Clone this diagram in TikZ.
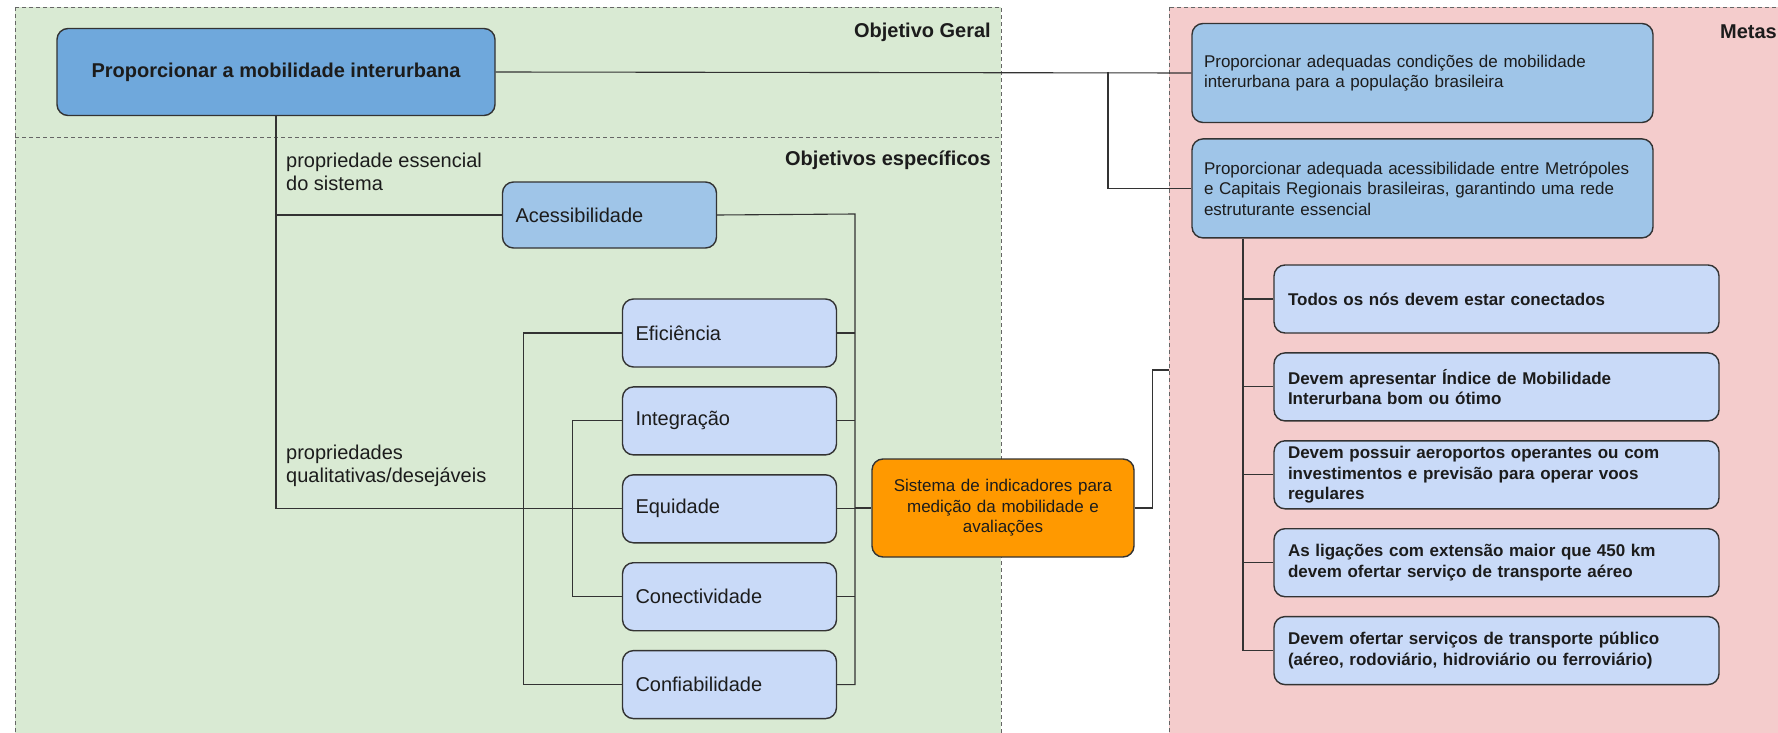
\documentclass[tikz,border=0pt]{standalone}
\usepackage{fontspec}
\setmainfont{Liberation Sans}
\usepackage{tikz}
\usetikzlibrary{positioning}
\definecolor{geralbg}{HTML}{D9EAD3}
\definecolor{metabg}{HTML}{F4CCCC}
\definecolor{azulforte}{HTML}{6FA8DC}
\definecolor{azulmedio}{HTML}{9FC5E8}
\definecolor{azulclaro}{HTML}{C9DAF8}
\definecolor{laranja}{HTML}{FF9900}
\definecolor{contorno}{HTML}{333333}
\definecolor{texto}{HTML}{1C1C1C}
\newcommand{\txtG}{\fontsize{20}{23}\selectfont}
\newcommand{\txtP}{\fontsize{17}{20.5}\selectfont}
\tikzset{
  painel/.style={draw=black!60, line width=0.8pt, dash pattern=on 4pt off 3pt},
  caixa/.style={draw=contorno, line width=1.4pt, rounded corners=11pt, text=texto},
  principal/.style={caixa, fill=azulforte, minimum width=438pt, minimum height=87pt, font=\txtG\bfseries},
  essencial/.style={caixa, fill=azulmedio, text width=188pt, inner xsep=13pt, align=left, minimum height=66pt, font=\txtG},
  qualidade/.style={caixa, fill=azulclaro, text width=188pt, inner xsep=13pt, align=left, minimum height=68pt, font=\txtG},
  indicador/.style={caixa, fill=laranja, text width=240pt, inner xsep=11pt, align=center, minimum height=98pt, font=\txtP},
  meta/.style={caixa, fill=azulmedio, text width=437pt, inner xsep=12pt, align=left, minimum height=99pt, font=\txtP},
  submeta/.style={caixa, fill=azulclaro, text width=417pt, inner xsep=14pt, inner ysep=2pt, align=left, minimum height=68pt, font=\txtP\bfseries},
  rotulo/.style={inner sep=0pt, align=left, text=texto, font=\txtG},
  titulo/.style={inner sep=0pt, text=texto, font=\txtG\bfseries},
  liga/.style={draw=contorno, line width=1.1pt}
}

\begin{document}
\begin{tikzpicture}[x=1pt,y=-1pt, node distance=18.5pt]
\useasboundingbox (0,0) rectangle (1778,733);
\clip (0,0) rectangle (1778,733);
\fill[white] (0,0) rectangle (1778,733);

\draw[painel, fill=geralbg] (15,7) rectangle (1001,745);
\draw[painel, fill=metabg] (1169,7) rectangle (1795,745);
\draw[painel] (15,137) -- (1001,137);
\node[titulo, anchor=east] (tgeral) at (991,32) {Objetivo Geral};
\node[titulo, anchor=east] (tespec) at (991,160) {Objetivos específicos};
\node[titulo, anchor=east] (tmetas) at (1777,32) {Metas};

\node[principal] (main) at (276,72) {Proporcionar a mobilidade interurbana};
\node[essencial] (acess) at (609.5,215) {Acessibilidade};
\node[qualidade] (efic) at (729.5,333) {Eficiência};
\node[qualidade, below=of efic] (integ) {Integração};
\node[qualidade, below=of integ] (equid) {Equidade};
\node[qualidade, below=of equid] (conec) {Conectividade};
\node[qualidade, below=of conec] (conf) {Confiabilidade};
\node[indicador] (sist) at (1003,508) {Sistema de indicadores para\\medição da mobilidade e\\avaliações};
\node[rotulo, anchor=west] (essen) at (286,172) {propriedade essencial\\do sistema};
\node[rotulo, anchor=west] (quali) at (286,466) {propriedades\\qualitativas/desejáveis};

\node[meta] (meta1) at (1422.5,73) {Proporcionar adequadas condições de mobilidade\\interurbana para a população brasileira};
\node[meta, below=15pt of meta1] (meta2) {Proporcionar adequada acessibilidade entre Metrópoles\\e Capitais Regionais brasileiras, garantindo uma rede\\estruturante essencial};
\node[submeta] (sub1) at (1496.5,299) {Todos os nós devem estar conectados};
\node[submeta, below=of sub1] (sub2) {Devem apresentar Índice de Mobilidade\\Interurbana bom ou ótimo};
\node[submeta, below=of sub2] (sub3) {Devem possuir aeroportos operantes ou com\\investimentos e previsão para operar voos\\regulares};
\node[submeta, below=of sub3] (sub4) {As ligações com extensão maior que 450 km\\devem ofertar serviço de transporte aéreo};
\node[submeta, below=of sub4] (sub5) {Devem ofertar serviços de transporte público\\(aéreo, rodoviário, hidroviário ou ferroviário)};

\coordinate (gancho) at (1108,72);
\coordinate (barra) at (855,214);
\coordinate (entrada) at (1169,370);
\coordinate (tronco) at (1243,236);

\draw[liga] (main.east) -- (meta1.west);
\draw[liga] (gancho) |- (meta2.west);
\draw[liga] (main.south) |- (equid.west);
\draw[liga] (main.south |- acess.west) -- (acess.west);
\draw[liga] (acess.east) -- (barra) |- (conf.east);
\foreach \n in {efic,integ,equid,conec}
  \draw[liga] (\n.east) -- (\n.east -| barra);
\draw[liga] (barra |- sist.west) -- (sist.west);
\draw[liga] (efic.west) -- ++(-98,0) |- (conf.west);
\draw[liga] (integ.west) -- ++(-49,0) |- (conec.west);
\draw[liga] (sist.east) -- ++(18,0) |- (entrada);
\draw[liga] (tronco |- meta2.south) |- (sub5.west);
\foreach \n in {sub1,sub2,sub3,sub4}
  \draw[liga] (\n.west) -- (\n.west -| tronco);
\end{tikzpicture}
\end{document}
